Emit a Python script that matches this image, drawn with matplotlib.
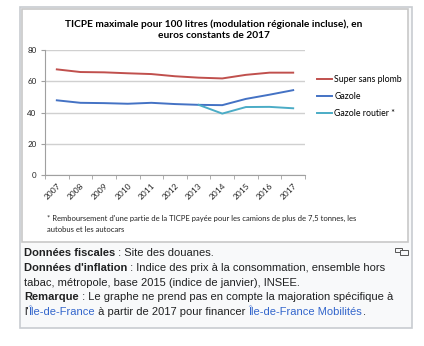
import matplotlib
matplotlib.use("Agg")
import matplotlib.pyplot as plt
from matplotlib.patches import Rectangle

# values (euros constants 2017, per 100 litres)
years = ["2007", "2008", "2009", "2010", "2011", "2012", "2013", "2014", "2015", "2016", "2017"]
super_sp = [67.6, 65.9, 65.7, 65.1, 64.6, 63.2, 62.3, 61.8, 64.1, 65.5, 65.5]
gazole = [47.8, 46.2, 46.0, 45.6, 46.2, 45.4, 44.9, 44.7, 48.7, 51.4, 54.3]
routier_years = ["2013", "2014", "2015", "2016", "2017"]
gazole_routier = [44.9, 39.3, 43.5, 43.6, 42.7]

W, H = 424, 346
fig = plt.figure(figsize=(W / 100, H / 100), dpi=100)
fig.patch.set_facecolor("white")

def px(x, y):
    return x / W, 1 - y / H

# wiki thumb frame + caption background
fig.patches.append(Rectangle(px(20, 328), 392 / W, 321 / H, transform=fig.transFigure,
                             facecolor="#f8f9fa", edgecolor="#c8ccd1", lw=1.2, zorder=-3))
# chart image with its own border
fig.patches.append(Rectangle(px(22, 242), 386 / W, 233 / H, transform=fig.transFigure,
                             facecolor="white", edgecolor="#c8c8c8", lw=1.2, zorder=-2))

chart_font = ["Lato", "DejaVu Sans"]
ax = fig.add_axes([45 / W, 1 - 175 / H, 260 / W, 125 / H])
ax.set_zorder(2)
ax.set_facecolor("none")
x = list(range(len(years)))
xr = [years.index(y) for y in routier_years]
ax.plot(x, super_sp, color="#c0504d", lw=1.4, label="Super sans plomb")
ax.plot(x, gazole, color="#4472c4", lw=1.4, label="Gazole")
ax.plot(xr, gazole_routier, color="#4bacc6", lw=1.4, label="Gazole routier *")
ax.set_xlim(-0.5, len(years) - 0.5)
ax.set_ylim(0, 80)
ax.set_yticks([0, 20, 40, 60, 80])
ax.yaxis.grid(True, color="#d0d0d0", lw=1)
ax.set_axisbelow(True)
for s in ["top", "right"]:
    ax.spines[s].set_visible(False)
ax.spines["left"].set_color("#a0a0a0")
ax.spines["bottom"].set_color("#a0a0a0")
ax.tick_params(axis="y", length=3, color="#a0a0a0", pad=3, labelsize=5.8, labelcolor="#222222")
ax.set_xticks(x)
ax.set_xticklabels(years, rotation=45, ha="right", rotation_mode="anchor",
                   fontsize=6.0, color="#222222", family=chart_font)
ax.set_xticks([i - 0.5 for i in range(len(years) + 1)], minor=True)
ax.tick_params(axis="x", which="major", length=0, pad=5)
ax.tick_params(axis="x", which="minor", length=3, color="#a0a0a0")
for t in ax.get_yticklabels():
    t.set_family(chart_font)

leg = fig.legend(loc="upper left", bbox_to_anchor=px(309, 67), frameon=False,
                 prop={"family": chart_font, "size": 6.3}, handlelength=1.7,
                 handletextpad=0.3, labelspacing=0.95)

fig.text(214 / W, 1 - 24 / H, "TICPE maximale pour 100 litres (modulation régionale incluse), en",
         ha="center", va="center", fontsize=7.3, weight="bold", family=chart_font)
fig.text(214 / W, 1 - 36 / H, "euros constants de 2017",
         ha="center", va="center", fontsize=7.3, weight="bold", family=chart_font)
fig.text(47 / W, 1 - 218 / H,
         "* Remboursement d'une partie de la TICPE payée pour les camions de plus de 7,5 tonnes, les",
         ha="left", va="center", fontsize=5.5, family=chart_font, color="#222222")
fig.text(47 / W, 1 - 229 / H, "autobus et les autocars",
         ha="left", va="center", fontsize=5.5, family=chart_font, color="#222222")

# caption, bold and link pieces placed one after the other
cap_font = ["Liberation Sans", "DejaVu Sans"]
caption = [
    [("Données fiscales", "bold", "#202122"), (" : Site des douanes.", "normal", "#202122")],
    [("Données d'inflation", "bold", "#202122"),
     (" : Indice des prix à la consommation, ensemble hors", "normal", "#202122")],
    [("tabac, métropole, base 2015 (indice de janvier), INSEE.", "normal", "#202122")],
    [("Remarque", "bold", "#202122"),
     (" : Le graphe ne prend pas en compte la majoration spécifique à", "normal", "#202122")],
    [("l'", "normal", "#202122"), ("Île-de-France", "normal", "#3366cc"),
     (" à partir de 2017 pour financer ", "normal", "#202122"),
     ("Île-de-France Mobilités", "normal", "#3366cc"), (".", "normal", "#202122")],
]
renderer = fig.canvas.get_renderer()
for i, line in enumerate(caption):
    xpos = 24
    y = 253 + i * 14.8
    for txt, wt, col in line:
        t = fig.text(xpos / W, 1 - y / H, txt, ha="left", va="center", fontsize=8.05,
                     weight=wt, color=col, family=cap_font)
        bb = t.get_window_extent(renderer)
        xpos += bb.width

# enlarge icon
fig.patches.append(Rectangle(px(395, 252), 7 / W, 4 / H, transform=fig.transFigure,
                             facecolor="none", edgecolor="#555555", lw=0.7, zorder=3))
fig.patches.append(Rectangle(px(400, 255), 8 / W, 5 / H, transform=fig.transFigure,
                             facecolor="#f8f9fa", edgecolor="#555555", lw=0.7, zorder=4))

fig.savefig("out.png", dpi=100)
